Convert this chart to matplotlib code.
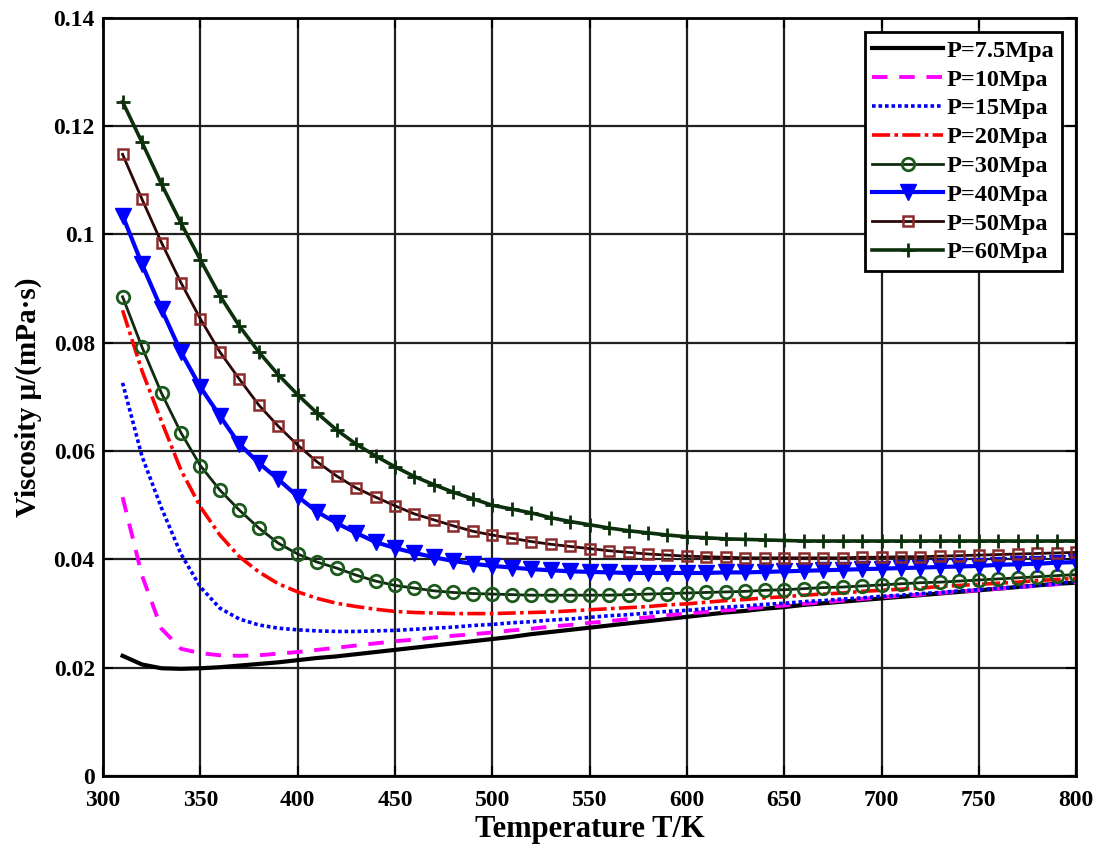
import matplotlib
matplotlib.use("Agg")
import matplotlib.pyplot as plt

plt.rcParams['font.family'] = ['Liberation Serif', 'DejaVu Serif']
plt.rcParams['font.weight'] = 'bold'

# temperature grid (K)
T = list(range(310, 801, 10))

mu_7_5 = [0.0222, 0.0206, 0.0199, 0.0198, 0.0199, 0.0201, 0.0204, 0.0207, 0.0210, 0.0214,
          0.0218, 0.0221, 0.0225, 0.0229, 0.0233, 0.0237, 0.0241, 0.0245, 0.0249, 0.0253,
          0.0257, 0.0262, 0.0266, 0.0270, 0.0274, 0.0278, 0.0282, 0.0286, 0.0290, 0.0294,
          0.0298, 0.0302, 0.0305, 0.0309, 0.0312, 0.0316, 0.0319, 0.0322, 0.0325, 0.0328,
          0.0331, 0.0334, 0.0337, 0.0340, 0.0343, 0.0346, 0.0349, 0.0352, 0.0355, 0.0357]
mu_10 = [0.0515, 0.0370, 0.0272, 0.0235, 0.0227, 0.0223, 0.0222, 0.0223, 0.0226, 0.0229,
         0.0233, 0.0237, 0.0241, 0.0245, 0.0249, 0.0252, 0.0256, 0.0259, 0.0262, 0.0265,
         0.0269, 0.0272, 0.0276, 0.0279, 0.0283, 0.0286, 0.0290, 0.0293, 0.0297, 0.0300,
         0.0303, 0.0306, 0.0309, 0.0312, 0.0315, 0.0318, 0.0321, 0.0324, 0.0327, 0.0330,
         0.0333, 0.0335, 0.0338, 0.0341, 0.0343, 0.0346, 0.0349, 0.0351, 0.0354, 0.0358]
mu_15 = [0.0726, 0.0590, 0.0495, 0.0410, 0.0349, 0.0310, 0.0290, 0.0279, 0.0273, 0.0270,
         0.0268, 0.0267, 0.0267, 0.0268, 0.0269, 0.0271, 0.0273, 0.0275, 0.0278, 0.0280,
         0.0283, 0.0285, 0.0288, 0.0290, 0.0293, 0.0296, 0.0298, 0.0301, 0.0304, 0.0306,
         0.0309, 0.0312, 0.0314, 0.0317, 0.0319, 0.0322, 0.0324, 0.0327, 0.0329, 0.0332,
         0.0334, 0.0337, 0.0339, 0.0342, 0.0344, 0.0347, 0.0349, 0.0352, 0.0355, 0.0360]
mu_20 = [0.0860, 0.0748, 0.0655, 0.0565, 0.0497, 0.0445, 0.0405, 0.0377, 0.0355, 0.0340,
         0.0328, 0.0319, 0.0313, 0.0308, 0.0304, 0.0302, 0.0301, 0.0300, 0.0300, 0.0300,
         0.0301, 0.0302, 0.0303, 0.0305, 0.0307, 0.0309, 0.0311, 0.0313, 0.0316, 0.0318,
         0.0321, 0.0324, 0.0326, 0.0329, 0.0331, 0.0334, 0.0336, 0.0338, 0.0341, 0.0343,
         0.0345, 0.0347, 0.0350, 0.0352, 0.0354, 0.0356, 0.0358, 0.0361, 0.0363, 0.0365]
mu_30 = [0.0885, 0.0792, 0.0707, 0.0634, 0.0573, 0.0528, 0.0491, 0.0458, 0.0430, 0.0410,
         0.0395, 0.0384, 0.0371, 0.0360, 0.0352, 0.0347, 0.0342, 0.0339, 0.0337, 0.0336,
         0.0335, 0.0334, 0.0334, 0.0334, 0.0334, 0.0334, 0.0335, 0.0336, 0.0337, 0.0338,
         0.0339, 0.0340, 0.0341, 0.0343, 0.0344, 0.0346, 0.0348, 0.0349, 0.0351, 0.0353,
         0.0355, 0.0357, 0.0358, 0.0360, 0.0362, 0.0364, 0.0366, 0.0368, 0.0370, 0.0372]
mu_40 = [0.1035, 0.0945, 0.0862, 0.0783, 0.0718, 0.0665, 0.0613, 0.0578, 0.0548, 0.0516,
         0.0488, 0.0467, 0.0449, 0.0432, 0.0421, 0.0412, 0.0404, 0.0397, 0.0392, 0.0388,
         0.0385, 0.0382, 0.0380, 0.0378, 0.0377, 0.0376, 0.0375, 0.0375, 0.0375, 0.0375,
         0.0375, 0.0376, 0.0376, 0.0377, 0.0378, 0.0379, 0.0380, 0.0381, 0.0382, 0.0383,
         0.0384, 0.0385, 0.0386, 0.0387, 0.0388, 0.0390, 0.0391, 0.0392, 0.0394, 0.0395]
mu_50 = [0.1148, 0.1065, 0.0985, 0.0911, 0.0844, 0.0783, 0.0733, 0.0685, 0.0646, 0.0611,
         0.0580, 0.0554, 0.0532, 0.0515, 0.0499, 0.0484, 0.0473, 0.0462, 0.0452, 0.0445,
         0.0439, 0.0433, 0.0428, 0.0424, 0.0420, 0.0416, 0.0413, 0.0410, 0.0408, 0.0406,
         0.0405, 0.0404, 0.0403, 0.0403, 0.0403, 0.0403, 0.0403, 0.0403, 0.0404, 0.0404,
         0.0405, 0.0405, 0.0406, 0.0407, 0.0408, 0.0409, 0.0410, 0.0411, 0.0412, 0.0413]
mu_60 = [0.1245, 0.1170, 0.1093, 0.1021, 0.0953, 0.0887, 0.0831, 0.0783, 0.0741, 0.0704,
         0.0670, 0.0639, 0.0613, 0.0591, 0.0571, 0.0553, 0.0538, 0.0524, 0.0512, 0.0500,
         0.0493, 0.0486, 0.0477, 0.0470, 0.0464, 0.0458, 0.0453, 0.0449, 0.0445, 0.0442,
         0.0440, 0.0438, 0.0437, 0.0436, 0.0435, 0.0434, 0.0434, 0.0434, 0.0434, 0.0434,
         0.0434, 0.0434, 0.0434, 0.0434, 0.0434, 0.0434, 0.0434, 0.0434, 0.0434, 0.0434]

labels = ['P=7.5Mpa', 'P=10Mpa', 'P=15Mpa', 'P=20Mpa',
          'P=30Mpa', 'P=40Mpa', 'P=50Mpa', 'P=60Mpa']

fig = plt.figure(figsize=(10.97, 8.5), dpi=100)
ax = fig.add_axes([0.094, 0.087, 0.887, 0.892])

ax.plot(T, mu_7_5, color='black', lw=3, label=labels[0])
ax.plot(T, mu_10, color='#ff00ff', lw=2.8, ls=(0, (4, 3)), label=labels[1])
ax.plot(T, mu_15, color='#0000ff', lw=2.6, ls=(0, (1, 0.8)), label=labels[2])
ax.plot(T, mu_20, color='#ff0000', lw=2.6, ls=(0, (5, 1.2, 1, 1.2)), label=labels[3])
ax.plot(T, mu_30, color='#0f2a0f', lw=2, marker='o', ms=9, mfc='none',
        mec='#1d5a1d', mew=2, label=labels[4])
ax.plot(T, mu_40, color='#0000ff', lw=3, marker='v', ms=12, mfc='#0000ff',
        mec='#0000ff', label=labels[5])
ax.plot(T, mu_50, color='#2a0808', lw=2, marker='s', ms=7.5, mfc='none',
        mec='#8a2a2a', mew=1.8, label=labels[6])
ax.plot(T, mu_60, color='#0b300b', lw=2.6, marker='+', ms=10, mec='#0b300b',
        mew=2, label=labels[7])

ax.set_xlim(300, 800)
ax.set_ylim(0, 0.14)
ax.set_xticks(range(300, 801, 50))
ax.set_yticks([0, 0.02, 0.04, 0.06, 0.08, 0.1, 0.12, 0.14])
ax.set_yticklabels(['0', '0.02', '0.04', '0.06', '0.08', '0.1', '0.12', '0.14'])
ax.tick_params(direction='in', length=7, width=1.5, labelsize=17,
               top=True, right=True)
ax.tick_params(axis='x', pad=10)
ax.tick_params(axis='y', pad=6)
for lab in ax.get_xticklabels() + ax.get_yticklabels():
    lab.set_fontweight('bold')

ax.grid(True, color='#202020', lw=1.6)
for s in ax.spines.values():
    s.set_linewidth(2)

ax.set_xlabel('Temperature T/K', fontsize=22, fontweight='bold', labelpad=3)
ax.set_ylabel('Viscosity μ/(mPa·s)', fontsize=21, fontweight='bold', labelpad=8)

leg = ax.legend(loc='upper right', handlelength=2.9, labelspacing=0.28,
                handletextpad=0.15, borderpad=0.3, borderaxespad=0.6, fancybox=False,
                framealpha=1, edgecolor='black', prop={'weight': 'bold', 'size': 17.5})
leg.get_frame().set_linewidth(2)

fig.savefig('out.png', dpi=100)
